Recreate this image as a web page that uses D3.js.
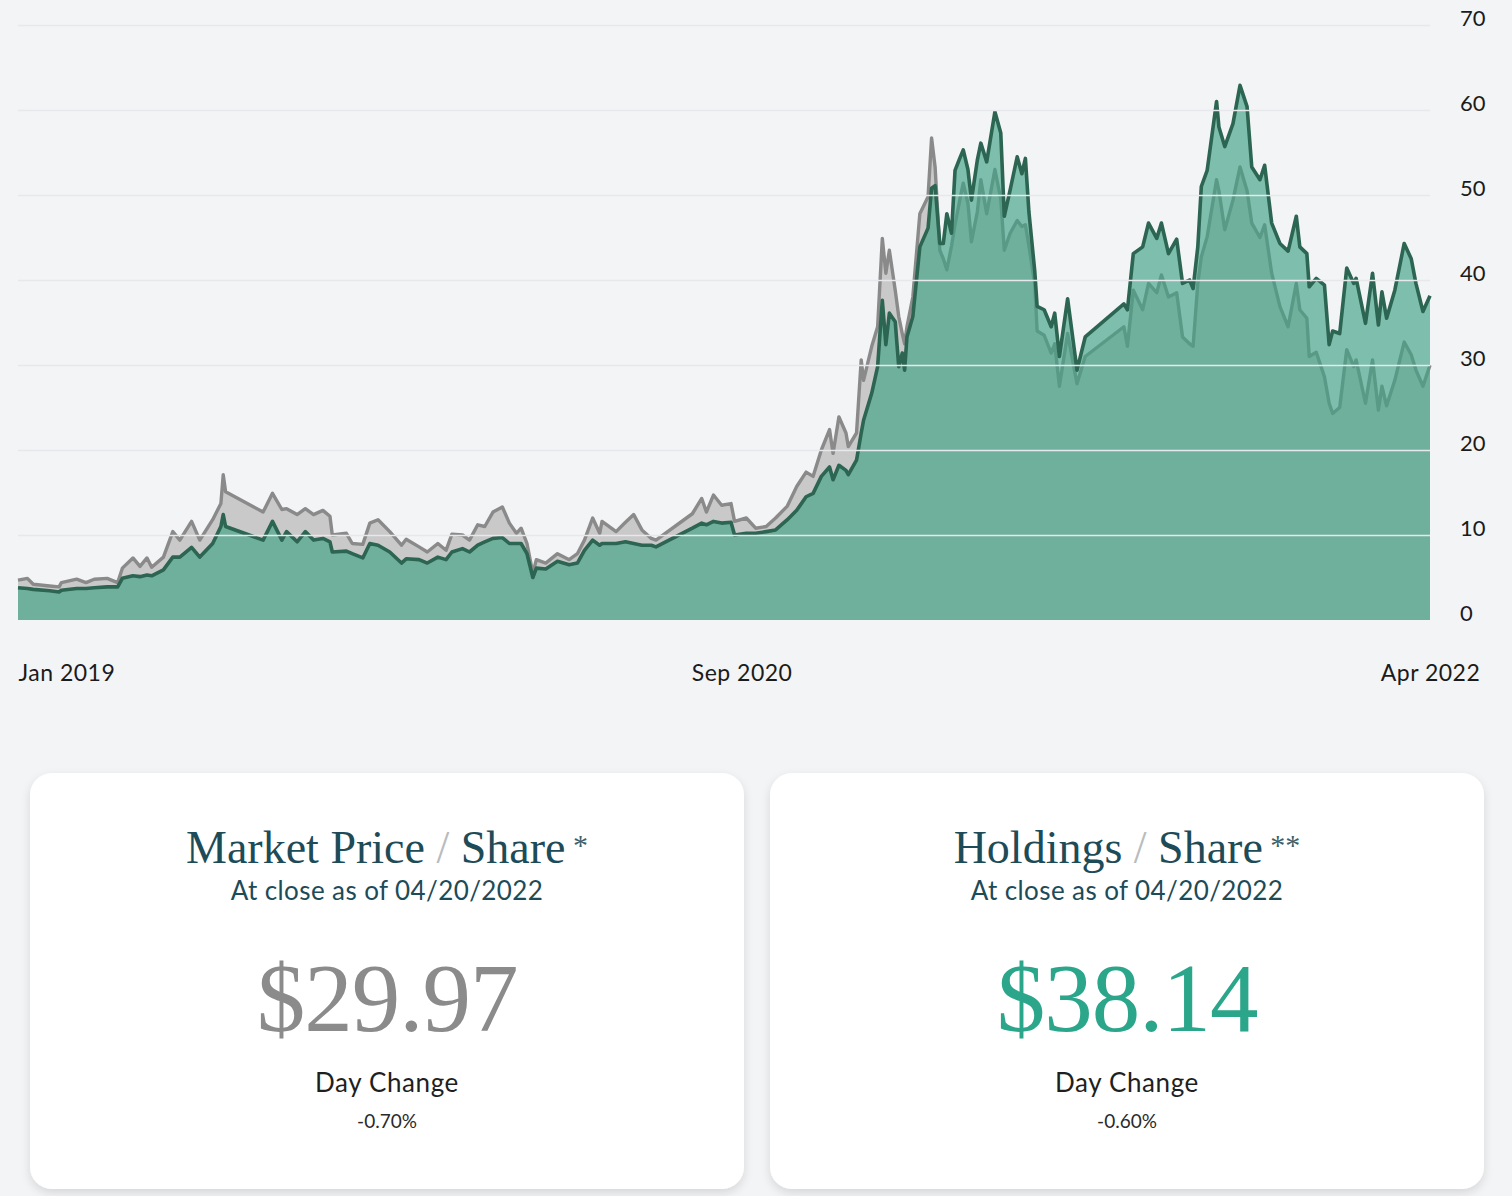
<!DOCTYPE html>
<html>
<head>
<meta charset="utf-8">
<script src="https://cdn.jsdelivr.net/npm/d3@7/dist/d3.min.js"></script>
<style>
	body { margin: 0; background: #f3f4f6; overflow: hidden; }
	svg { display: block; }
	.sans { font-family: Lato, 'Noto Sans', sans-serif; }
	.serif { font-family: 'Liberation Serif', 'DejaVu Serif', serif; }
</style>
</head>
<body>
<div id="chart"></div>
<script>
'use strict';

// closing dates (gaps are periods without data)
const dates = [
	'2019-01-02','2019-01-10','2019-01-15','2019-01-29','2019-02-06','2019-02-08','2019-02-21','2019-03-01',
	'2019-03-08','2019-03-19','2019-03-28','2019-04-01','2019-04-10','2019-04-16','2019-04-22','2019-04-26',
	'2019-05-06','2019-05-14','2019-05-20','2019-05-30','2019-06-06','2019-06-17','2019-06-24','2019-06-26',
	'2019-06-28','2019-07-30','2019-08-07','2019-08-15','2019-08-19','2019-08-28','2019-09-04','2019-09-11',
	'2019-09-19','2019-09-25','2019-09-27','2019-10-09','2019-10-14','2019-10-23','2019-10-29','2019-11-05',
	'2019-11-15','2019-11-25','2019-11-29','2019-12-10','2019-12-17','2019-12-26','2020-01-02','2020-01-07',
	'2020-01-16','2020-01-22','2020-01-29','2020-02-04','2020-02-11','2020-02-19','2020-02-25','2020-03-02',
	'2020-03-06','2020-03-11','2020-03-16','2020-03-19','2020-03-27','2020-04-06','2020-04-16','2020-04-23',
	'2020-04-29','2020-05-06','2020-05-12','2020-05-14','2020-05-26','2020-06-03','2020-06-10','2020-06-17',
	'2020-06-25','2020-06-29','2020-07-30','2020-08-07','2020-08-11','2020-08-17','2020-08-24','2020-09-01',
	'2020-09-04','2020-09-14','2020-09-22','2020-10-01','2020-10-09','2020-10-19','2020-10-27','2020-11-04',
	'2020-11-10','2020-11-17','2020-11-24','2020-11-27','2020-12-02','2020-12-08','2020-12-10','2020-12-17',
	'2020-12-21','2020-12-23','2020-12-30','2021-01-04','2021-01-08','2021-01-11','2021-01-14','2021-01-19',
	'2021-01-22','2021-01-25','2021-01-27','2021-01-29','2021-02-03','2021-02-09','2021-02-16','2021-02-19',
	'2021-02-22','2021-02-26','2021-03-01','2021-03-04','2021-03-08','2021-03-11','2021-03-15','2021-03-18',
	'2021-03-22','2021-03-25','2021-03-30','2021-04-02','2021-04-07','2021-04-14','2021-04-19','2021-04-22',
	'2021-04-27','2021-05-03','2021-05-07','2021-05-10','2021-05-13','2021-05-18','2021-05-20','2021-05-26',
	'2021-06-01','2021-06-04','2021-06-08','2021-06-15','2021-06-23','2021-06-30','2021-08-02','2021-08-05',
	'2021-08-10','2021-08-18','2021-08-23','2021-08-30','2021-09-03','2021-09-09','2021-09-16','2021-09-21',
	'2021-09-27','2021-09-30','2021-10-04','2021-10-07','2021-10-12','2021-10-20','2021-10-22','2021-10-27',
	'2021-11-03','2021-11-09','2021-11-15','2021-11-19','2021-11-26','2021-11-30','2021-12-06','2021-12-13',
	'2021-12-20','2021-12-27','2021-12-30','2022-01-05','2022-01-07','2022-01-13','2022-01-20','2022-01-24',
	'2022-01-27','2022-02-02','2022-02-08','2022-02-14','2022-02-16','2022-02-24','2022-03-02','2022-03-07',
	'2022-03-10','2022-03-14','2022-03-21','2022-03-29','2022-04-04','2022-04-08','2022-04-14','2022-04-20'
];

// market price per share ($)
const marketPrice = [
	4.7,4.9,4.2,4.0,3.9,4.4,4.8,4.4,
	4.8,4.9,4.4,6.1,7.3,6.3,7.3,6.2,
	7.4,10.4,9.4,11.6,9.4,11.8,13.7,17.1,
	15.1,12.7,14.9,13.0,13.1,12.4,13.1,12.4,
	12.9,12.2,10.0,10.2,9.0,8.9,11.4,11.8,
	10.4,8.8,9.5,8.6,8.0,9.0,8.2,10.1,
	10.0,9.4,11.2,11.0,12.7,13.3,11.4,10.2,
	10.8,9.0,5.5,7.1,6.7,7.8,7.1,7.8,
	9.4,12.0,10.2,11.6,10.4,11.5,12.4,10.6,
	9.6,9.4,12.5,14.3,12.7,14.7,13.5,13.7,
	11.6,12.0,10.8,11.0,12.0,13.4,15.7,17.4,
	16.9,20.0,22.4,19.6,23.9,22.0,20.4,22.0,
	30.6,28.2,32.2,34.5,44.9,40.8,43.5,38.8,
	35.7,33.7,32.5,34.5,38.0,47.8,49.8,56.7,
	53.3,43.5,42.5,41.2,44.0,46.5,49.4,51.4,
	49.0,44.5,48.0,51.8,47.8,53.0,49.5,43.5,
	45.5,47.0,46.3,46.5,44.0,39.5,34.0,33.5,
	31.4,32.5,27.5,33.7,27.8,31.0,34.5,32.2,
	38.8,36.5,39.6,38.5,40.6,38.0,38.5,33.3,
	32.5,32.2,39.6,42.7,45.1,51.8,50.5,45.9,
	49.4,53.3,50.5,46.7,45.0,46.5,40.8,36.9,
	34.5,39.6,36.5,35.5,31.0,31.5,28.6,25.5,
	24.3,25.0,31.8,29.8,30.6,25.5,30.6,24.7,
	27.5,25.2,28.2,32.7,31.2,29.4,27.5,29.97
];

// holdings (net asset value) per share ($)
const holdings = [
	3.8,3.7,3.6,3.45,3.3,3.5,3.7,3.7,
	3.8,3.9,3.9,4.9,5.2,5.1,5.3,5.2,
	5.9,7.4,7.4,8.55,7.4,9.0,11.0,12.4,
	11.0,9.4,11.6,9.4,10.4,9.2,10.4,9.4,
	9.6,9.2,8.0,8.1,7.8,7.3,9.0,8.8,
	8.0,6.7,7.2,7.1,6.7,7.4,7.1,8.0,
	8.4,8.0,8.8,9.2,9.6,9.7,9.0,9.0,
	9.0,7.8,5.0,6.1,6.0,6.9,6.5,6.7,
	8.2,9.4,8.8,9.0,9.0,9.2,9.0,8.8,
	8.8,8.6,10.8,11.4,11.2,11.6,11.4,11.5,
	10.0,10.2,10.2,10.4,10.6,11.8,12.9,14.5,
	14.9,16.9,18.0,16.5,18.2,17.6,17.1,18.8,
	22.0,23.5,26.7,29.8,37.6,32.4,36.1,35.1,
	29.8,31.4,29.4,33.3,35.7,43.9,46.1,50.8,
	51.1,44.3,44.3,47.8,45.5,52.9,54.3,55.3,
	53.0,49.4,54.1,56.1,53.9,59.8,57.3,47.5,
	50.6,54.5,52.5,54.3,48.0,41.0,36.9,36.5,
	34.5,36.1,31.0,37.8,29.4,33.3,37.2,36.5,
	43.1,43.9,46.7,44.9,46.7,43.1,44.8,39.6,
	40.0,39.0,43.9,51.0,52.9,61.0,58.0,55.7,
	58.4,62.9,60.4,53.3,51.8,53.5,46.7,44.3,
	43.4,47.5,43.9,43.1,39.2,40.2,39.4,32.4,
	34.0,33.7,41.4,39.6,40.2,34.9,40.8,34.7,
	38.6,35.5,38.8,44.3,42.5,39.6,36.3,38.14
];

const yTicks = [0, 10, 20, 30, 40, 50, 60, 70];
const xTickDates = ['2019-01-02', '2020-09-10', '2022-04-20'];

// summary cards
const cardTitles = ['Market Price', 'Holdings'];
const cardStars = ['*', '**'];
const cardDate = 'At close as of 04/20/2022';
const cardValues = ['$29.97', '$38.14'];
const dayChanges = ['-0.70%', '-0.60%'];

// Setting up the page
const W = 1512, H = 1196;
const plot = { left: 18, right: 1430, top: 25, bottom: 620 };

const parseDate = d3.timeParse('%Y-%m-%d');
const rows = dates.map(function(d, i) {
	return { date: parseDate(d), market: marketPrice[i], holdings: holdings[i] };
});

const svg = d3.select('#chart').append('svg')
	.attr('width', W)
	.attr('height', H);

const defs = svg.append('defs');
const shadow = defs.append('filter')
	.attr('id', 'cardShadow')
	.attr('x', '-10%').attr('y', '-10%')
	.attr('width', '120%').attr('height', '130%');
shadow.append('feDropShadow')
	.attr('dx', 0).attr('dy', 4)
	.attr('stdDeviation', 5)
	.attr('flood-color', '#000')
	.attr('flood-opacity', 0.12);

const xScale = d3.scaleTime()
	.domain(d3.extent(rows, function(d) { return d.date; }))
	.range([plot.left, plot.right]);

const yScale = d3.scaleLinear()
	.domain([0, 70])
	.range([plot.bottom, plot.top]);

// market price area (grey, behind)
const marketArea = d3.area()
	.x(function(d) { return xScale(d.date); })
	.y0(yScale(0))
	.y1(function(d) { return yScale(d.market); });
const marketLine = d3.line()
	.x(function(d) { return xScale(d.date); })
	.y(function(d) { return yScale(d.market); });

svg.append('path')
	.datum(rows)
	.attr('d', marketArea)
	.style('fill', '#c9c9ca');
svg.append('path')
	.datum(rows)
	.attr('d', marketLine)
	.style('fill', 'none')
	.style('stroke', '#8a8a8a')
	.style('stroke-width', 3.4)
	.style('stroke-linejoin', 'round');

// holdings area (translucent green, in front)
const holdArea = d3.area()
	.x(function(d) { return xScale(d.date); })
	.y0(yScale(0))
	.y1(function(d) { return yScale(d.holdings); });
const holdLine = d3.line()
	.x(function(d) { return xScale(d.date); })
	.y(function(d) { return yScale(d.holdings); });

svg.append('path')
	.datum(rows)
	.attr('d', holdArea)
	.style('fill', '#40a385')
	.style('fill-opacity', 0.66);
svg.append('path')
	.datum(rows)
	.attr('d', holdLine)
	.style('fill', 'none')
	.style('stroke', '#2c6552')
	.style('stroke-width', 3.6)
	.style('stroke-linejoin', 'round');

// grid lines
const grid = svg.append('g')
	.attr('transform', 'translate(' + plot.left + ',0)')
	.call(d3.axisRight(yScale)
		.tickValues(yTicks.slice(1))
		.tickSize(plot.right - plot.left)
		.tickFormat(''));
grid.select('.domain').remove();
grid.selectAll('line')
	.style('stroke', '#e6e8eb')
	.style('stroke-width', 1.3);

// right value axis
const yAxis = svg.append('g')
	.attr('class', 'sans')
	.attr('transform', 'translate(1460,0)')
	.call(d3.axisRight(yScale).tickValues(yTicks).tickSize(0).tickPadding(0));
yAxis.select('.domain').remove();
yAxis.selectAll('text')
	.attr('dy', '0.05em')
	.attr('y', -1)
	.style('font-family', 'Lato, sans-serif')
	.style('font-size', '22px')
	.style('fill', '#1b1b1b')
	.style('text-anchor', 'start');

// date axis
const xAxis = svg.append('g')
	.attr('transform', 'translate(0,' + plot.bottom + ')')
	.call(d3.axisBottom(xScale)
		.tickValues(xTickDates.map(parseDate))
		.tickFormat(d3.timeFormat('%b %Y'))
		.tickSize(0)
		.tickPadding(0));
xAxis.select('.domain').remove();
xAxis.selectAll('text')
	.attr('dy', 0)
	.attr('y', 61)
	.style('font-family', 'Lato, sans-serif')
	.style('font-size', '23px')
	.style('letter-spacing', '0.5px')
	.style('fill', '#1b1b1b')
	.style('text-anchor', function(d, i) { return i === 0 ? 'start' : 'middle'; });

// summary cards
const cardX = d3.scaleBand()
	.domain(d3.range(cardTitles.length))
	.range([30, 1484])
	.paddingInner(26 / 740);

const card = svg.selectAll('.card')
	.data(cardTitles)
	.enter().append('g')
	.attr('class', 'card')
	.attr('transform', function(d, i) { return 'translate(' + cardX(i) + ',773)'; });

card.append('rect')
	.attr('width', cardX.bandwidth())
	.attr('height', 416)
	.attr('rx', 22)
	.style('fill', '#fff')
	.attr('filter', 'url(#cardShadow)');

const cx = cardX.bandwidth() / 2;

const title = card.append('text')
	.attr('class', 'serif')
	.attr('x', cx)
	.attr('y', 90)
	.style('text-anchor', 'middle')
	.style('font-size', '46px')
	.style('fill', '#1d4b58');
title.append('tspan').text(function(d) { return d + ' '; });
title.append('tspan').text('/').style('fill', '#b9bcbf').style('font-weight', 300);
title.append('tspan').text(' Share');
title.append('tspan')
	.text(function(d, i) { return ' ' + cardStars[i]; })
	.attr('dy', -8)
	.style('font-size', '30px')
	.style('fill', '#3d5f69');

card.append('text')
	.attr('class', 'sans')
	.attr('x', cx)
	.attr('y', 127)
	.style('text-anchor', 'middle')
	.style('font-size', '26px')
	.style('letter-spacing', '0.4px')
	.style('fill', '#1d4b58')
	.text(cardDate);

card.append('text')
	.attr('class', 'serif')
	.attr('x', cx)
	.attr('y', 258)
	.style('text-anchor', 'middle')
	.style('font-size', '97px')
	.style('letter-spacing', '-1px')
	.style('fill', function(d, i) { return i === 0 ? '#8b8b8b' : '#2ba68a'; })
	.text(function(d, i) { return cardValues[i]; });

card.append('text')
	.attr('class', 'sans')
	.attr('x', cx)
	.attr('y', 319)
	.style('text-anchor', 'middle')
	.style('font-size', '26px')
	.style('letter-spacing', '0.6px')
	.style('fill', '#1f1f1f')
	.text('Day Change');

card.append('text')
	.attr('class', 'sans')
	.attr('x', cx)
	.attr('y', 355)
	.style('text-anchor', 'middle')
	.style('font-size', '19px')
	.style('fill', '#2a2a2a')
	.text(function(d, i) { return dayChanges[i]; });
</script>
</body>
</html>
